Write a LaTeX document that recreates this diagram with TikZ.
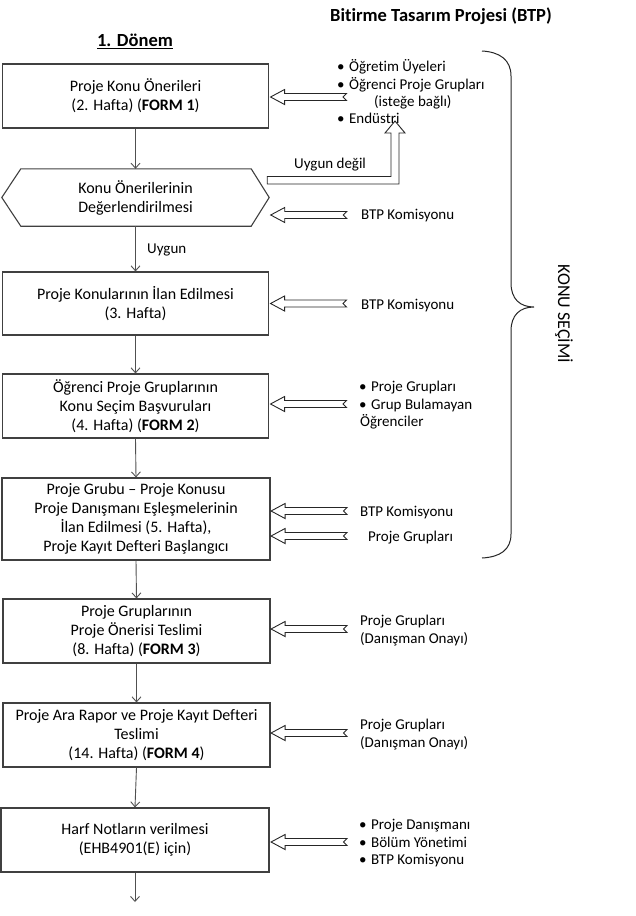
\documentclass[tikz,border=0pt]{standalone}
\usepackage{fontspec}
\setmainfont{Carlito}[Ligatures=NoCommon]
\usetikzlibrary{arrows.meta,calc}
\definecolor{boxc}{HTML}{404040}
\definecolor{linec}{HTML}{505050}
\newcommand\bul{\textbullet\hspace{4.5pt}}
\begin{document}
\begin{tikzpicture}[x=1pt,y=-1pt,
  box/.style={draw=boxc, line width=1.1pt, inner sep=0pt, align=center,
    font=\fontsize{16}{19}\selectfont, minimum width=266pt, minimum height=64pt},
  flow/.style={draw=linec, line width=0.9pt, -{Straight Barb[length=5pt,width=9pt]}},
  blk/.style={draw=black!85, line width=0.9pt, fill=white, line join=miter},
  lbl/.style={anchor=west, inner sep=0pt, text height=9.6pt, text depth=0pt,
    font=\fontsize{15}{17}\selectfont},
  larr/.pic={\draw[blk] (0,0) -- (14,-7.5) -- (14,-3.5) -- (76,-3.5) -- (72.5,0)
     -- (76,3.5) -- (14,3.5) -- (14,7.5) -- cycle;}
]
\useasboundingbox (0,0) rectangle (636,916);

% titles
\node[inner sep=0pt, font=\bfseries\fontsize{18.5}{20}\selectfont] (title) at (441,16) {Bitirme Tasarım Projesi (BTP)};
\node[inner sep=0pt, font=\bfseries\fontsize{18.5}{20}\selectfont] (donem) at (135,41) {\underline{1. Dönem}};

% boxes
\node[box] (b1) at (135.5,96) {Proje Konu Önerileri\\(2. Hafta) (\textbf{FORM 1})};
\node[inner sep=0pt, minimum width=267pt, minimum height=57pt, align=center,
      font=\fontsize{16}{19}\selectfont] (hex) at (135.5,197.5) {Konu Önerilerinin\\Değerlendirilmesi};
\draw[draw=boxc, line width=1.1pt] (hex.west) -- ($(hex.north west)+(19,0)$) -- ($(hex.north east)+(-18,0)$)
   -- (hex.east) -- ($(hex.south east)+(-18,0)$) -- ($(hex.south west)+(19,0)$) -- cycle;
\node[box, minimum height=63pt] (b3) at (135.5,303.5) {Proje Konularının İlan Edilmesi\\(3. Hafta)};
\node[box] (b4) at (135.5,406) {Öğrenci Proje Gruplarının\\Konu Seçim Başvuruları\\(4. Hafta) (\textbf{FORM 2})};
\node[box, minimum width=268pt, minimum height=82pt] (b5) at (136,519) {Proje Grubu -- Proje Konusu\\Proje Danışmanı Eşleşmelerinin\\İlan Edilmesi (5. Hafta),\\Proje Kayıt Defteri Başlangıcı};
\node[box, minimum width=267pt] (b6) at (136.5,631) {Proje Gruplarının\\Proje Önerisi Teslimi\\(8. Hafta) (\textbf{FORM 3})};
\node[box, minimum width=267pt] (b7) at (136.5,735) {Proje Ara Rapor ve Proje Kayıt Defteri\\Teslimi\\(14. Hafta) (\textbf{FORM 4})};
\node[box, minimum width=268pt] (b8) at (135,840) {Harf Notların verilmesi\\(EHB4901(E) için)};
\coordinate (end) at (135,902);

% flow connectors
\draw[flow] (b1.south) -- (hex.north);
\draw[flow] (hex.south) -- (b3.north);
\draw[flow] (b3.south) -- (b4.north);
\draw[flow] (b4.south) -- (b5.north);
\draw[flow] (b5.south) -- (b6.north);
\draw[flow] (b6.south) -- (b7.north);
\draw[flow] (b7.south) -- (b8.north);
\draw[flow] (b8.south) -- (end);

\node[lbl] (uygun) at (147,249) {Uygun};

% block arrows
\pic at ($(b1.east)+(1.5,1)$) {larr};
\pic at ($(hex.east)+(1.5,17.5)$) {larr};
\pic at ($(b3.east)+(1.5,0)$) {larr};
\pic at ($(b4.east)+(1.5,-2)$) {larr};
\pic at ($(b5.east)+(0.5,-8)$) {larr};
\pic at ($(b5.east)+(0.5,17)$) {larr};
\pic at ($(b6.east)+(0.5,-2)$) {larr};
\pic at ($(b7.east)+(0.5,-2)$) {larr};
\pic at ($(b8.east)+(1.5,2)$) {larr};

% bent "Uygun degil" arrow
\draw[blk] ($(hex.east)+(-2,-21)$) coordinate (ud0) -- (391,176.5) -- (391,133) -- (385,133) -- (395,121)
   -- (405,133) -- (399,133) -- (399,184) -- ($(hex.east)+(-2,-13.5)$) -- cycle;
\node[lbl] (udegil) at (294,164) {Uygun değil};

% right labels
\node[lbl] (t1) at (337,67) {\bul Öğretim Üyeleri};
\node[lbl] (t2) at (337,84.5) {\bul Öğrenci Proje Grupları};
\node[lbl] (t3) at (374,102) {(isteğe bağlı)};
\node[lbl] (t4) at (337,119) {\bul Endüstri};

\node[lbl] (k1) at (361,215) {BTP Komisyonu};
\node[lbl] (k3) at (361,305) {BTP Komisyonu};

\node[lbl] (g1) at (359,387) {\bul Proje Grupları};
\node[lbl] (g2) at (359,404.5) {\bul Grup Bulamayan};
\node[lbl] (g3) at (360,422) {Öğrenciler};

\node[lbl] (k5) at (360,512) {BTP Komisyonu};
\node[lbl] (p5) at (368,537) {Proje Grupları};

\node[lbl] (p6a) at (360,621) {Proje Grupları};
\node[lbl] (p6b) at (360,639) {(Danışman Onayı)};
\node[lbl] (p7a) at (360,725) {Proje Grupları};
\node[lbl] (p7b) at (360,743) {(Danışman Onayı)};

\node[lbl] (h1) at (359,825) {\bul Proje Danışmanı};
\node[lbl] (h2) at (359,843) {\bul Bölüm Yönetimi};
\node[lbl] (h3) at (359,860) {\bul BTP Komisyonu};

% brace
\draw[line width=1pt, draw=black!85] (482,51) .. controls (500,52) and (511,60) .. (511,76) -- (511,283)
  .. controls (511,299) and (520,307) .. (534,307)
  .. controls (520,307) and (511,315) .. (511,331) -- (511,534)
  .. controls (511,550) and (500,557) .. (482,558);
\node[inner sep=0pt, rotate=-90, font=\fontsize{18}{20}\selectfont] (konu) at (564,314) {KONU SEÇİMİ};
\end{tikzpicture}
\end{document}
